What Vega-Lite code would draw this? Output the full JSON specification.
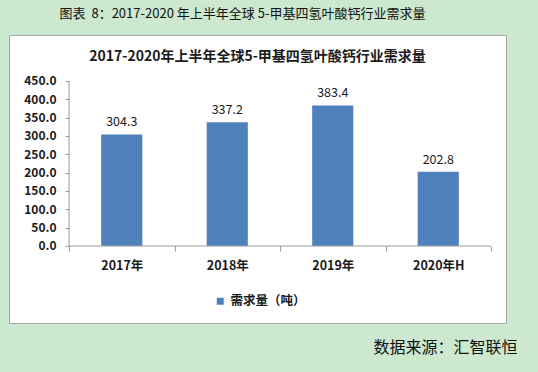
{
  "$schema": "https://vega.github.io/schema/vega-lite/v6.json",
  "width": 497,
  "height": 288,
  "autosize": "none",
  "padding": {"left": 9, "top": 35, "right": 32, "bottom": 49},
  "background": "#CCE8CF",
  "config": {
    "font": "Noto Sans CJK SC",
    "view": {"fill": "white", "stroke": "#A6A6A6", "strokeWidth": 1},
    "axis": {"labelOverlap": false}
  },
  "title": {
    "text": "图表\u00a0 8：2017-2020 年上半年全球 5-甲基四氢叶酸钙行业需求量",
    "anchor": "middle",
    "offset": 14,
    "dx": -15,
    "fontSize": 13,
    "fontWeight": "normal",
    "color": "#111111"
  },
  "data": {
    "values": [
      {"year": "2017年", "value": 304.3},
      {"year": "2018年", "value": 337.2},
      {"year": "2019年", "value": 383.4},
      {"year": "2020年H", "value": 202.8}
    ]
  },
  "layer": [
    {
      "mark": {"type": "bar", "width": {"band": 0.39}},
      "encoding": {
        "x": {
          "field": "year",
          "type": "nominal",
          "sort": null,
          "scale": {"domain": ["2017年", "2018年", "2019年", "2020年H"], "paddingInner": 0, "paddingOuter": 0.3555, "align": 0.8},
          "axis": {
            "orient": "bottom",
            "offset": -77,
            "domain": false,
            "grid": false,
            "tickBand": "extent",
            "tickSize": 5,
            "tickColor": "#999999",
            "labelAngle": 0,
            "labelFontSize": 12.5,
            "labelFontWeight": "bold",
            "labelColor": "#1a1a1a",
            "labelPadding": 8,
            "title": "数据来源：汇智联恒",
            "titleX": 508,
            "titleY": 101,
            "titleAlign": "right",
            "titleAnchor": null,
            "titleBaseline": "middle",
            "titleFontSize": 16,
            "titleFontWeight": "normal",
            "titleColor": "#111111"
          }
        },
        "y": {
          "field": "value",
          "type": "quantitative",
          "scale": {"domain": [-210, 575.45], "nice": false, "zero": false},
          "axis": {
            "orient": "left",
            "offset": -60,
            "values": [0, 50, 100, 150, 200, 250, 300, 350, 400, 450],
            "tickCount": 20,
            "format": ".1f",
            "labelOverlap": false,
            "domain": false,
            "grid": false,
            "tickSize": 4,
            "tickColor": "#999999",
            "labelFontSize": 12,
            "labelFontWeight": "bold",
            "labelColor": "#1a1a1a",
            "labelPadding": 9,
            "title": "2017-2020年上半年全球5-甲基四氢叶酸钙行业需求量",
            "titleAngle": 0,
            "titleX": 188,
            "titleY": 21,
            "titleAlign": "center",
            "titleAnchor": null,
            "titleBaseline": "middle",
            "titleFontSize": 14,
            "titleFontWeight": "bold",
            "titleColor": "#1a1a1a"
          }
        },
        "color": {
          "datum": "需求量（吨）",
          "type": "nominal",
          "scale": {"range": ["#4F81BD"]},
          "legend": {
            "orient": "none",
            "legendX": 205,
            "legendY": 260,
            "title": null,
            "symbolType": "square",
            "symbolSize": 49,
            "symbolStrokeWidth": 0,
            "labelFontSize": 12.5,
            "labelFontWeight": "bold",
            "labelColor": "#1a1a1a",
            "padding": 0
          }
        }
      }
    },
    {
      "mark": {"type": "text", "dy": -8, "baseline": "alphabetic", "fontSize": 12.5, "color": "#1a1a1a"},
      "encoding": {
        "x": {"field": "year", "type": "nominal", "sort": null},
        "y": {"field": "value", "type": "quantitative"},
        "text": {"field": "value", "type": "quantitative", "format": ".1f"}
      }
    },
    {
      "data": {"values": [{}]},
      "mark": {"type": "rule", "color": "#999999", "strokeWidth": 1},
      "encoding": {
        "x": {"datum": "2017年", "type": "nominal", "bandPosition": 0},
        "x2": {"datum": "2020年H", "bandPosition": 1},
        "y": {"datum": 0, "type": "quantitative"}
      }
    },
    {
      "data": {"values": [{}]},
      "mark": {"type": "rule", "color": "#999999", "strokeWidth": 1},
      "encoding": {
        "x": {"datum": "2017年", "type": "nominal", "bandPosition": 0},
        "y": {"datum": 0, "type": "quantitative"},
        "y2": {"datum": 450}
      }
    }
  ]
}
